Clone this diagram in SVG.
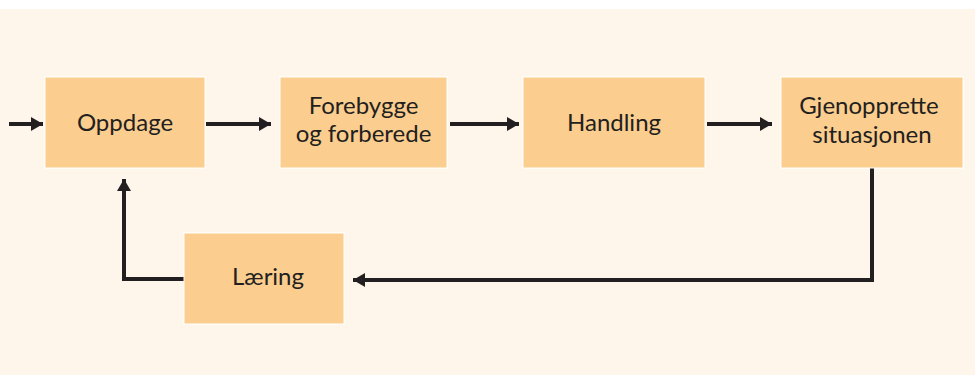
<svg xmlns="http://www.w3.org/2000/svg" width="975" height="375" viewBox="0 0 975 375">
<style>
.box{fill:#FBCD8E;stroke:#FFFFFF;stroke-width:1}
.lbl{font-family:Lato,"Open Sans",sans-serif;font-size:24px;font-weight:400;fill:#231F20;text-anchor:middle}
.ln{fill:none;stroke:#231F20;stroke-width:4}
</style>
<defs>
<marker id="ah" markerWidth="12" markerHeight="14" refX="12" refY="7" orient="auto" markerUnits="userSpaceOnUse">
<path d="M0,0 L12,7 L0,14 Z" fill="#231F20"/>
</marker>
</defs>
<rect x="0" y="0" width="975" height="375" fill="#FFFFFF"/>
<rect x="0" y="9" width="975" height="366" fill="#FEF6EB"/>
<g id="connectors">
<line class="ln" x1="9" y1="124" x2="43" y2="124" marker-end="url(#ah)"/>
<line class="ln" x1="206" y1="124" x2="271" y2="124" marker-end="url(#ah)"/>
<line class="ln" x1="450" y1="124" x2="519" y2="124" marker-end="url(#ah)"/>
<line class="ln" x1="707" y1="124" x2="772" y2="124" marker-end="url(#ah)"/>
<polyline class="ln" points="872,168 872,280 353,280" marker-end="url(#ah)"/>
<polyline class="ln" points="184,279 124,279 124,179" marker-end="url(#ah)"/>
</g>
<g id="oppdage">
<rect class="box" x="45" y="77" width="160" height="91"/>
<text class="lbl" x="125" y="131">Oppdage</text>
</g>
<g id="forebygge">
<rect class="box" x="280" y="77" width="167" height="91"/>
<text class="lbl" x="363.5" y="114">Forebygge</text>
<text class="lbl" x="363.5" y="142">og forberede</text>
</g>
<g id="handling">
<rect class="box" x="523" y="77" width="182" height="91"/>
<text class="lbl" x="614" y="131">Handling</text>
</g>
<g id="gjenopprette">
<rect class="box" x="781" y="77" width="182" height="91"/>
<text class="lbl" x="869" y="114">Gjenopprette</text>
<text class="lbl" x="872" y="143">situasjonen</text>
</g>
<g id="laering">
<rect class="box" x="184" y="233" width="160" height="91"/>
<text class="lbl" x="268" y="285">Læring</text>
</g>
</svg>
